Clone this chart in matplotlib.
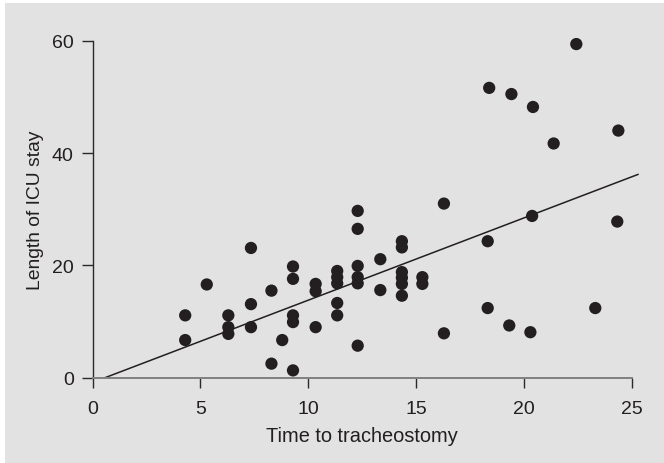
import matplotlib
matplotlib.use("Agg")
import matplotlib.pyplot as plt
from matplotlib.patches import Rectangle
import numpy as np

# Data
time_to_trach = [
    4.3, 4.3,
    5.3,
    6.3, 6.3, 6.3,
    7.35, 7.35, 7.35,
    8.3, 8.3,
    8.8,
    9.3, 9.3, 9.3, 9.3, 9.3,
    10.35, 10.35, 10.35,
    11.35, 11.35, 11.35, 11.35, 11.35,
    12.3, 12.3, 12.3, 12.3, 12.3, 12.3,
    13.35, 13.35,
    14.35, 14.35, 14.35, 14.35, 14.35, 14.35,
    15.3, 15.3,
    16.3, 16.3,
    18.4, 18.33, 18.33,
    19.43, 19.33,
    20.43, 20.39, 20.31,
    21.39,
    22.44,
    23.32,
    24.39, 24.34,
]
icu_stay = [
    11.1, 6.7,
    16.6,
    11.1, 9.0, 7.8,
    23.1, 13.1, 9.0,
    15.5, 2.5,
    6.7,
    19.8, 17.6, 11.1, 9.9, 1.3,
    16.7, 15.4, 9.0,
    19.0, 17.9, 16.8, 13.3, 11.1,
    29.7, 26.5, 19.9, 17.9, 16.8, 5.7,
    21.1, 15.6,
    24.3, 23.2, 18.8, 17.8, 16.7, 14.6,
    17.9, 16.7,
    31.0, 7.9,
    51.6, 24.3, 12.4,
    50.5, 9.3,
    48.2, 28.8, 8.1,
    41.7,
    59.4,
    12.4,
    44.0, 27.8,
]

# Regression line as drawn in the reference
fit_slope = 1.464
fit_intercept = -0.85
fit_x_range = [0.58, 25.3]

x_ticks = [0, 5, 10, 15, 20, 25]
y_ticks = [0, 20, 40, 60]
x_label = "Time to tracheostomy"
y_label = "Length of ICU stay"

BG = "#e2e2e2"
INK = "#231f20"

W, H = 664, 464
fig = plt.figure(figsize=(W / 100, H / 100), dpi=100)
fig.patch.set_facecolor("white")
fig.patches.append(Rectangle((5 / W, 0), 1, 1 - 4 / H, transform=fig.transFigure,
                             facecolor=BG, edgecolor="none", zorder=-10))

left, right = 92.5 / W, 631.5 / W
bottom, top = 1 - 378.7 / H, 1 - 41.7 / H
ax = fig.add_axes([left, bottom, right - left, top - bottom])
ax.set_facecolor("none")

ax.scatter(time_to_trach, icu_stay, s=78, color=INK, edgecolors="none", zorder=3,
           clip_on=False)

fx = np.array(fit_x_range)
ax.plot(fx, fit_slope * fx + fit_intercept, color=INK, lw=1.1, clip_on=False, zorder=2)

ax.set_xlim(0, 25)
ax.set_ylim(0, 60)
ax.set_xticks(x_ticks)
ax.set_yticks(y_ticks)

for s in ["top", "right"]:
    ax.spines[s].set_visible(False)
ax.spines["left"].set_color("#2a2a2a")
ax.spines["left"].set_linewidth(1.0)
ax.spines["bottom"].set_color("#808080")
ax.spines["bottom"].set_linewidth(1.4)

tick_font = ["Liberation Sans Narrow", "Liberation Sans", "DejaVu Sans"]
label_font = ["Liberation Sans", "DejaVu Sans"]

ax.tick_params(axis="y", direction="out", length=8, width=1.0, color="#2a2a2a",
               pad=5.5, labelsize=14, labelcolor=INK)
ax.tick_params(axis="x", direction="out", length=7.2, width=1.0, color="#2a2a2a",
               pad=8.5, labelsize=14, labelcolor=INK)
for lab in ax.get_xticklabels() + ax.get_yticklabels():
    lab.set_fontfamily(tick_font)

ax.set_xlabel(x_label, fontsize=14.4, family=label_font, color=INK, labelpad=6.5)
ax.set_ylabel(y_label, fontsize=13.9, family=label_font, color=INK, labelpad=6)

fig.savefig("out.png", dpi=100)
